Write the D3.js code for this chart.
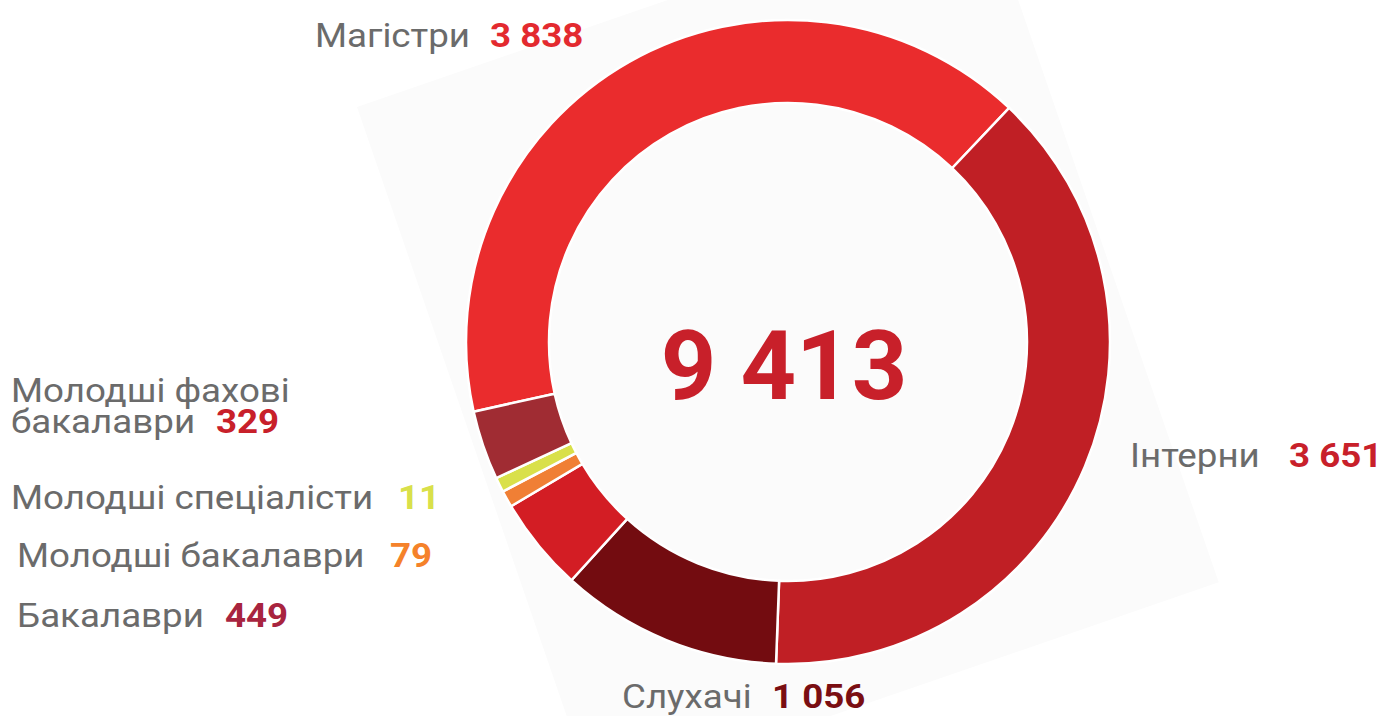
<!DOCTYPE html>
<html>
<head>
<meta charset="utf-8">
<script src="https://cdn.jsdelivr.net/npm/d3@7"></script>
<style>
  body { margin: 0; background: #fff; }
  text { font-family: Roboto, "Noto Sans", sans-serif; }
</style>
</head>
<body>
<div id="donut"></div>
<script>
// data
const categories = ["Магістри", "Інтерни", "Слухачі", "Бакалаври",
    "Молодші бакалаври", "Молодші спеціалісти", "Молодші фахові бакалаври"];
const values = [3838, 3651, 1056, 449, 79, 11, 329];
const sliceColors = ["#ea2c2d", "#c01f25", "#730c10", "#d31d24", "#f07f35", "#d9e04a", "#a02c33"];
const valueColors = ["#e32a2f", "#c8202a", "#7a0e12", "#a8243f", "#f5822a", "#d9e04a", "#c8202a"];

// label layout: [label x, baseline y, value x]
const labelPos = [
    [315, 47, 490],
    [1130, 467, 1289],
    [622, 708, 772],
    [17, 627, 225],
    [17, 567, 390],
    [11, 509, 398],
    [11, 433, 216]
];

const width = 1384,
    height = 716;
const cx = 788,
    cy = 342,
    outerR = 322,
    innerR = 239;
const stretch = 1.08; // label glyphs are a little wide in the original
const grey = "#6b6b6b";

const fmt = d3.formatLocale({
    decimal: ",",
    thousands: " ",
    grouping: [3],
    currency: ["", ""]
}).format(",d");

const svg = d3.select("#donut")
    .append("svg")
    .attr("width", width)
    .attr("height", height);

// faint tilted background card
svg.append("rect")
    .attr("x", 0)
    .attr("y", 0)
    .attr("width", 660)
    .attr("height", 730)
    .attr("transform", "translate(357,107) rotate(-19)")
    .attr("fill", "#fbfbfb");

const data = categories.map((c, i) => ({
    name: c,
    value: values[i],
    color: sliceColors[i],
    valueColor: valueColors[i]
}));

// tiny slices get a minimum visible width
const start = -102.5 * Math.PI / 180;
const pie = d3.pie()
    .sort(null)
    .value(d => Math.max(d.value, 70))
    .startAngle(start)
    .endAngle(start + 2 * Math.PI);

const arc = d3.arc()
    .innerRadius(innerR)
    .outerRadius(outerR);

const g = svg.append("g")
    .attr("transform", "translate(" + cx + "," + cy + ")");

g.selectAll("path.slice")
    .data(pie(data))
    .enter()
    .append("path")
    .attr("class", "slice")
    .attr("d", arc)
    .attr("fill", d => d.data.color)
    .attr("stroke", "#fff")
    .attr("stroke-width", 2.5);

// total in the middle
g.append("text")
    .attr("x", -4)
    .attr("y", 57)
    .attr("text-anchor", "middle")
    .attr("font-size", 97)
    .attr("font-weight", 700)
    .attr("fill", "#c8202a")
    .text(fmt(d3.sum(values)));

// labels
const labels = svg.selectAll("g.label")
    .data(data)
    .enter()
    .append("g")
    .attr("class", "label");

function addText(el, x, y) {
    return el.append("text")
        .attr("transform", "translate(" + x + "," + y + ") scale(" + stretch + ",1)")
        .attr("font-size", 34);
}

labels.each(function(d, i) {
    const el = d3.select(this);
    const p = labelPos[i];
    const words = d.name.split(" ");

    if (words.length > 2) {
        // wrapped label: name on two lines, value after the second line
        const t = addText(el, p[0], p[1] - 31);
        t.append("tspan")
            .attr("fill", grey)
            .text(words.slice(0, 2).join(" "));
        t.append("tspan")
            .attr("x", 0)
            .attr("dy", 31)
            .attr("fill", grey)
            .text(words.slice(2).join(" "));
        t.append("tspan")
            .attr("x", (p[2] - p[0]) / stretch)
            .attr("font-weight", 700)
            .attr("fill", d.valueColor)
            .text(fmt(d.value));
        return;
    }
    addText(el, p[0], p[1])
        .attr("fill", grey)
        .text(d.name);
    addText(el, p[2], p[1])
        .attr("font-weight", 700)
        .attr("fill", d.valueColor)
        .text(fmt(d.value));
});
</script>
</body>
</html>
